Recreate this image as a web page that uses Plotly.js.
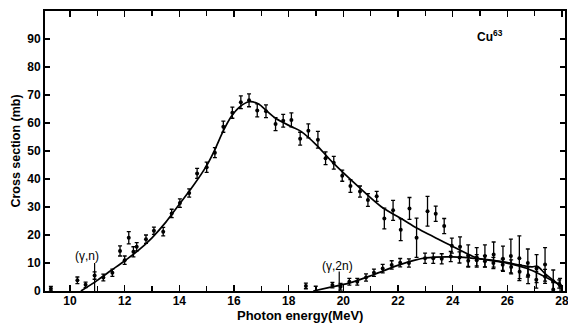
<!DOCTYPE html>
<html>
<head>
<meta charset="utf-8">
<script src="https://cdn.plot.ly/plotly-3.0.1.min.js"></script>
<style>html,body{margin:0;padding:0;background:#fff;}#chart{width:568px;height:323px;}</style>
</head>
<body>
<div id="chart"></div>
<script>
// (γ,n) measured points
const gnEnergy = [9.3, 10.27, 10.57, 10.9, 11.22, 11.55, 11.83, 12.0, 12.15, 12.32, 12.44, 12.78, 13.07, 13.41, 13.72, 14.02, 14.36, 14.65, 15.0, 15.3, 15.61, 15.94, 16.25, 16.55, 16.85, 17.17, 17.52, 17.8, 18.1, 18.42, 18.72, 19.07, 19.35, 19.65, 19.96, 20.26, 20.61, 20.9, 21.22, 21.5, 21.82, 22.1, 22.42, 22.68, 23.08, 23.38, 23.69, 23.97, 24.27, 24.57, 24.88, 25.18, 25.5, 25.84, 26.13, 26.44, 26.75, 27.07, 27.38, 27.68, 27.93];
const gnSigma  = [0.8, 3.8, 2.2, 5.5, 4.8, 6.5, 14.3, 11.0, 19.0, 14.0, 15.8, 18.5, 21.5, 21.2, 27.7, 31.4, 35.0, 42.0, 44.2, 49.4, 58.7, 63.7, 67.4, 68.1, 64.5, 64.2, 59.6, 60.8, 61.1, 54.4, 57.2, 54.0, 47.4, 45.8, 41.2, 37.5, 35.5, 32.5, 33.8, 25.9, 28.8, 21.9, 29.5, 19.0, 28.5, 27.6, 23.2, 16.2, 15.8, 12.5, 12.0, 12.5, 13.0, 11.5, 12.5, 11.7, 10.0, 8.0, 9.5, 3.5, 2.0];
const gnError  = [0.8, 1.2, 1.0, 1.3, 1.2, 1.3, 1.8, 1.5, 2.2, 1.8, 1.5, 1.5, 1.3, 1.5, 1.5, 1.5, 1.5, 1.8, 1.8, 1.8, 2.0, 2.0, 2.3, 2.3, 2.3, 2.3, 2.3, 2.3, 2.5, 2.3, 2.5, 3.0, 2.3, 2.3, 2.0, 2.3, 2.0, 2.3, 1.8, 3.7, 3.6, 3.9, 3.9, 7.0, 5.3, 2.7, 2.7, 2.7, 3.5, 4.0, 3.5, 4.0, 4.5, 4.5, 6.0, 8.0, 5.0, 5.0, 6.0, 4.0, 2.5];

// (γ,2n) measured points
const g2nEnergy = [18.63, 18.99, 19.6, 19.9, 20.22, 20.51, 20.83, 21.12, 21.44, 21.77, 22.08, 22.4, 22.99, 23.29, 23.6, 23.93, 24.25, 24.57, 24.88, 25.18, 25.49, 25.83, 26.14, 26.45, 26.76, 27.06, 27.38, 27.68, 27.9];
const g2nSigma  = [1.8, -0.3, 2.1, 1.5, 3.3, 3.3, 4.8, 6.5, 8.0, 9.3, 10.1, 10.0, 11.7, 11.7, 11.5, 12.3, 12.0, 10.8, 11.0, 10.6, 10.0, 9.4, 8.6, 6.9, 5.6, 4.0, 5.2, 0.5, 2.5];
const g2nError  = [1.0, 2.0, 1.0, 1.2, 1.2, 1.2, 1.3, 1.3, 1.5, 1.5, 1.5, 1.5, 1.8, 1.8, 1.8, 1.8, 2.0, 2.0, 2.0, 2.0, 2.0, 2.0, 2.5, 2.5, 3.0, 3.0, 2.5, 2.5, 1.5];

// smooth curves drawn through the data
const gnCurveE = [10.4, 11.0, 11.5, 12.0, 12.5, 13.0, 13.5, 14.0, 14.5, 15.0, 15.3, 15.6, 15.9, 16.2, 16.55, 16.9, 17.2, 17.55, 18.1, 18.45, 19.0, 19.6, 20.6, 21.4, 22.1, 22.7, 23.3, 23.9, 24.9, 25.7, 26.7, 27.95];
const gnCurveS = [0, 3.8, 7.3, 10.8, 14.5, 19.0, 24.5, 31.0, 37.5, 44.8, 50.5, 57.0, 62.3, 65.7, 67.6, 66.8, 64.3, 61.5, 58.7, 57.0, 52.3, 46.0, 36.8, 30.0, 26.0, 22.4, 19.4, 16.4, 11.8, 10.5, 8.1, 2.0];
const g2nCurveE = [18.9, 19.5, 20.2, 21.1, 22.1, 23.0, 24.0, 25.0, 25.8, 26.5, 26.9, 27.1, 27.4, 27.95];
const g2nCurveS = [0, 1.3, 2.8, 5.8, 9.5, 11.8, 12.2, 11.5, 10.5, 9.2, 8.6, 8.8, 6.0, 1.8];

// reaction thresholds (MeV) and their marker heights (mb)
const thresholdE = [10.9, 19.85];
const thresholdTop = [10, 7];
const reactionLabels = ['(γ,n)', '(γ,2n)'];
const labelE = [10.62, 19.8];
const labelS = [12.4, 9.0];

const xTickVals = [10, 12, 14, 16, 18, 20, 22, 24, 26, 28];
const yTickVals = [0, 10, 20, 30, 40, 50, 60, 70, 80, 90];

const FONT = {family: 'Liberation Sans, Arial, sans-serif', size: 11, color: '#000', weight: 'bold'};

const pts = (x, y, e) => ({
  x: x, y: y, type: 'scatter', mode: 'markers',
  marker: {color: '#000', size: 4},
  error_y: {type: 'data', array: e, visible: true, color: '#000', thickness: 1.3, width: 2},
  showlegend: false, hoverinfo: 'skip'
});
const curve = (x, y) => ({
  x: x, y: y, type: 'scatter', mode: 'lines',
  line: {color: '#000', width: 1.7, shape: 'spline', smoothing: 1},
  showlegend: false, hoverinfo: 'skip'
});

const traces = [
  curve(gnCurveE, gnCurveS),
  curve(g2nCurveE, g2nCurveS),
  pts(gnEnergy, gnSigma, gnError),
  pts(g2nEnergy, g2nSigma, g2nError)
];

const shapes = thresholdE.map((e, i) => ({
  type: 'line', xref: 'x', yref: 'y', x0: e, x1: e, y0: 0, y1: thresholdTop[i],
  line: {color: '#000', width: 1.2}
}));

const annotations = reactionLabels.map((t, i) => ({
  text: t, x: labelE[i], y: labelS[i], xref: 'x', yref: 'y',
  showarrow: false, font: {family: FONT.family, size: 12, color: '#000', weight: 'normal'}
}));
annotations.push({text: 'Cu<sup>63</sup>', x: 25.37, y: 91, xref: 'x', yref: 'y', showarrow: false,
  font: {family: FONT.family, size: 12, color: '#000', weight: 'bold'}});
annotations.push({text: 'Photon energy(MeV)', x: 0.49, y: -0.087, xref: 'paper', yref: 'paper',
  xanchor: 'center', yanchor: 'middle', showarrow: false,
  font: {family: FONT.family, size: 13, color: '#000', weight: 'bold'}});

const layout = {
  width: 568, height: 323,
  margin: {l: 45, r: 3, t: 11, b: 32},
  paper_bgcolor: '#fff', plot_bgcolor: '#fff',
  font: FONT,
  xaxis: {
    range: [9.085, 28.11], tickvals: xTickVals, ticktext: xTickVals.map(String),
    ticks: 'inside', ticklen: 6, tickwidth: 1.3, tickcolor: '#000',
    minor: {dtick: 1, tick0: 0, ticks: 'inside', ticklen: 5, tickwidth: 1.3, tickcolor: '#000'},
    showline: true, linewidth: 2, linecolor: '#000', mirror: 'ticks',
    showgrid: false, zeroline: false, ticklabeloverflow: 'allow', ticklabelstandoff: -2,
    tickfont: Object.assign({}, FONT, {size: 12})
  },
  yaxis: {
    range: [0, 100], tickvals: yTickVals, ticktext: yTickVals.map(String),
    ticks: 'inside', ticklen: 5, tickwidth: 1.3, tickcolor: '#000',
    showline: true, linewidth: 2, linecolor: '#000', mirror: 'ticks',
    showgrid: false, zeroline: false,
    tickfont: Object.assign({}, FONT, {size: 12}),
    title: {text: 'Cross section (mb)', font: Object.assign({}, FONT, {size: 12.5}), standoff: 4}
  },
  shapes: shapes,
  annotations: annotations
};

Plotly.newPlot('chart', traces, layout, {staticPlot: true, displayModeBar: false});
</script>
</body>
</html>
